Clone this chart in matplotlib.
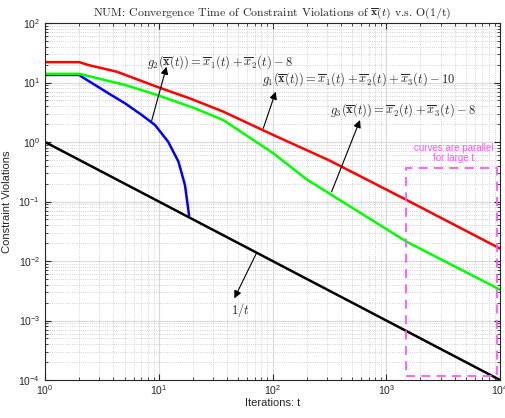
import matplotlib.pyplot as plt

plt.rcParams['font.family'] = 'Liberation Sans'
plt.rcParams['mathtext.fontset'] = 'custom'
plt.rcParams['mathtext.rm'] = 'Liberation Sans'
plt.rcParams['mathtext.it'] = 'Liberation Sans:italic'
plt.rcParams['mathtext.bf'] = 'Liberation Sans:bold'

# curves (iteration t, violation)
red_t = [1, 2, 2.4, 4.27, 9.6, 18.8, 36.9, 101.6, 320, 1510, 10000]
red_v = [22, 22, 19.7, 15.2, 8.5, 5.4, 3.24, 1.31, 0.485, 0.106, 0.0162]

green_t = [1, 2, 5.05, 9.6, 20.1, 36.9, 101.6, 200, 320, 1510, 10000]
green_v = [14, 14, 9.1, 6.2, 3.77, 2.34, 0.646, 0.235, 0.134, 0.0211, 0.0033]

blue_t = [1, 2, 2.1, 2.75, 3.6, 5.05, 7.08, 9.27, 12.1, 14.9, 17.0, 18.45]
blue_v = [13.4, 13.4, 12.5, 9.1, 6.6, 4.47, 2.85, 1.93, 1.01, 0.467, 0.189, 0.059]

ref_t = [1, 10000]
ref_v = [1, 1e-4]

box_t = [1500, 9400]
box_v = [1.17e-4, 0.366]

lbl_g2 = r'$g_2(\overline{\mathbf{x}}(t)) = \overline{x}_1(t) + \overline{x}_2(t) - 8$'
lbl_g1 = r'$g_1(\overline{\mathbf{x}}(t)) = \overline{x}_1(t) + \overline{x}_2(t) + \overline{x}_3(t) - 10$'
lbl_g3 = r'$g_3(\overline{\mathbf{x}}(t)) = \overline{x}_2(t) + \overline{x}_3(t) - 8$'
lbl_ref = r'$1/t$'

dark = '#262626'
pink = '#ff55ff'

fig = plt.figure(figsize=(5.06, 4.18), dpi=100)
ax = fig.add_axes([45/506, 1 - 380/418, 455/506, 357/418])

ax.plot(red_t, red_v, color='red', lw=1.8)
ax.plot(blue_t, blue_v, color='blue', lw=1.8)
ax.plot(green_t, green_v, color='#00ff00', lw=1.8)
ax.plot(ref_t, ref_v, color='black', lw=1.8)

ax.set_xscale('log')
ax.set_yscale('log')
ax.set_xlim(1, 1e4)
ax.set_ylim(1e-4, 1e2)

# magenta dashed box
ax.plot([box_t[0], box_t[1], box_t[1], box_t[0], box_t[0]],
        [box_v[0], box_v[0], box_v[1], box_v[1], box_v[0]],
        color=pink, lw=1.3, dashes=(5, 3.5))
ax.text(3945, 0.653, 'curves are parallel\nfor large t', color=pink,
        fontsize=7, ha='center', va='center', linespacing=1.0)

# annotations
arrow = dict(arrowstyle='-|>', color='black', lw=0.8, mutation_scale=11,
             shrinkA=0, shrinkB=0)
ax.annotate('', xy=(11.7, 18.4), xytext=(8.67, 2.3), arrowprops=arrow)
ax.annotate('', xy=(106.7, 7.0), xytext=(83, 1.70), arrowprops=arrow)
ax.annotate('', xy=(588, 2.34), xytext=(331, 0.146), arrowprops=arrow)
ax.annotate('', xy=(46.2, 0.00236), xytext=(72.6, 0.0138), arrowprops=arrow)

ax.text(7.93, 22.4, lbl_g2, fontsize=9, ha='left', va='center',
        color=dark, math_fontfamily='cm')
ax.text(80.4, 11.3, lbl_g1, fontsize=9, ha='left', va='center',
        color=dark, math_fontfamily='cm')
ax.text(320, 3.45, lbl_g3, fontsize=9, ha='left', va='center',
        color=dark, math_fontfamily='cm')
ax.text(51.8, 0.0015, lbl_ref, fontsize=9, ha='center', va='center',
        color=dark, math_fontfamily='cm')

ax.set_title(r'NUM: Convergence Time of Constraint Violations of $\overline{\mathbf{x}}(t)$ v.s. O(1/t)',
             fontsize=8.5, family='cmr10', math_fontfamily='cm', color=dark, pad=5)
ax.set_xlabel('Iterations: t', fontsize=8, color=dark, labelpad=1)
ax.set_ylabel('Constraint Violations', fontsize=8, color=dark)
ax.yaxis.set_label_coords(-0.072, 0.5)

ax.grid(True, which='major', color='#d9d9d9', lw=0.8)
ax.grid(True, which='minor', color='#c4c4c4', lw=0.6, ls=':')
ax.set_axisbelow(True)
ax.tick_params(which='both', direction='in', top=True, right=True,
               colors=dark, labelsize=7.5)
ax.tick_params(axis='x', which='major', pad=2)
ax.tick_params(which='major', length=4)
ax.tick_params(which='minor', length=2)
for s in ax.spines.values():
    s.set_color(dark)
    s.set_linewidth(0.8)

fig.savefig('out.png', dpi=100)
